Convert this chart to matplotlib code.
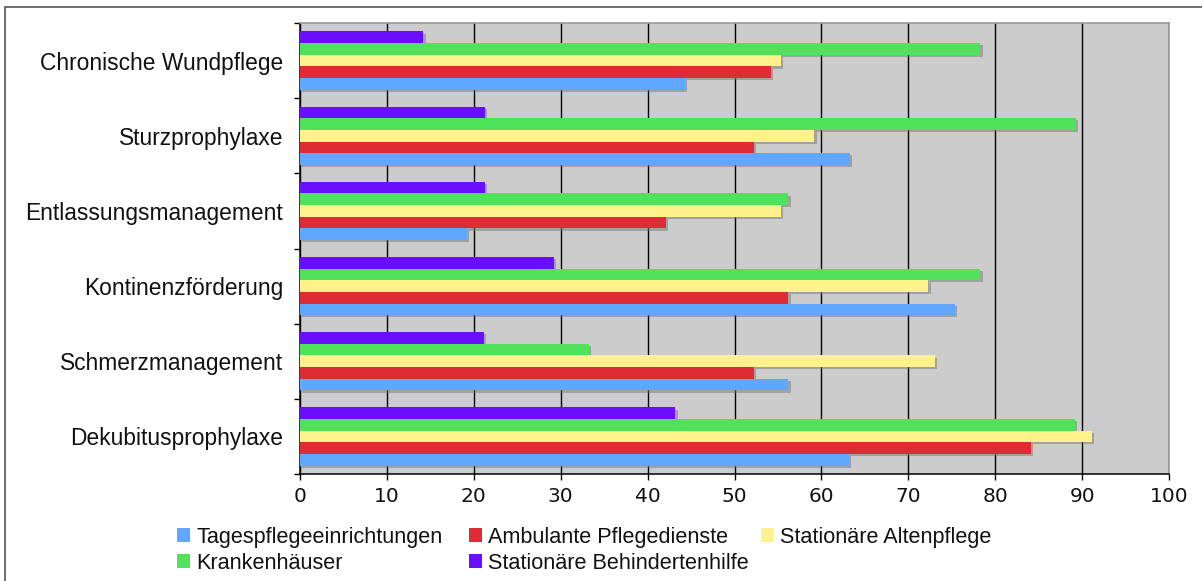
import matplotlib
matplotlib.use("Agg")
import matplotlib.pyplot as plt
import matplotlib.patheffects as pe
from matplotlib.patches import Rectangle
from matplotlib.ticker import FixedLocator
import numpy as np

#===[DATA]===#
categories = ["Chronische Wundpflege", "Sturzprophylaxe", "Entlassungsmanagement",
              "Kontinenzförderung", "Schmerzmanagement", "Dekubitusprophylaxe"]

tagespflege = [44.3, 63.3, 19.2, 75.4, 56.2, 63.2]
ambulante = [54.2, 52.2, 42.1, 56.2, 52.2, 84.1]
altenpflege = [55.3, 59.2, 55.3, 72.3, 73.1, 91.1]
krankenhaeuser = [78.3, 89.3, 56.2, 78.3, 33.2, 89.2]
behindertenhilfe = [14.2, 21.3, 21.3, 29.2, 21.2, 43.2]

x_ticks = [0, 10, 20, 30, 40, 50, 60, 70, 80, 90, 100]

# series from the top bar of a group down to the bottom bar
series = [
    ("Stationäre Behindertenhilfe", behindertenhilfe, "#6a0eff"),
    ("Krankenhäuser", krankenhaeuser, "#4fe25a"),
    ("Stationäre Altenpflege", altenpflege, "#fff28c"),
    ("Ambulante Pflegedienste", ambulante, "#dd2c33"),
    ("Tagespflegeeinrichtungen", tagespflege, "#60a8ff"),
]

#===[PLOT]===#
fig = plt.figure(figsize=(12.02, 5.81), dpi=100)
ax = fig.add_axes([300 / 1202, 1 - 474 / 581, 869 / 1202, 451 / 581])
ax.set_facecolor("#cccccc")

y = np.arange(len(categories))
h = 0.155
shadow = [pe.SimplePatchShadow(offset=(1.6, -1.6), shadow_rgbFace="#777777", alpha=0.5), pe.Normal()]

bars = {}
for i, (name, vals, col) in enumerate(series):
    b = ax.barh(y + (i - 2) * h, vals, height=h, color=col, zorder=3)
    for r in b:
        r.set_path_effects(shadow)
    bars[name] = b

ax.set_xlim(0, 100)
ax.set_ylim(len(categories) - 0.5, -0.5)  # top category first

# x axis
ax.set_xticks(x_ticks)
ax.set_xticklabels([str(t) for t in x_ticks], fontsize=14.5, family="DejaVu Sans", color="#111111")
ax.tick_params(axis="x", direction="out", length=4, width=1, color="black", pad=5)
ax.grid(axis="x", color="black", linewidth=1.0)
ax.set_axisbelow(True)

# y axis: ticks on group borders, labels in the middle
ax.yaxis.set_major_locator(FixedLocator(np.arange(-0.5, len(categories), 1.0)))
ax.yaxis.set_minor_locator(FixedLocator(y))
ax.set_yticklabels([], minor=False)
ax.set_yticklabels(categories, minor=True, fontsize=16.4, family="Liberation Sans", color="#111111")
ax.tick_params(axis="y", which="major", direction="out", length=4.5, width=1, color="black")
ax.tick_params(axis="y", which="minor", length=0, pad=12)

for s in ["left", "bottom"]:
    ax.spines[s].set_color("black")
    ax.spines[s].set_linewidth(1.1)
for s in ["top", "right"]:
    ax.spines[s].set_color("#999999")
    ax.spines[s].set_linewidth(1.2)

# legend: three columns placed by hand
cols = [
    ["Tagespflegeeinrichtungen", "Krankenhäuser"],
    ["Ambulante Pflegedienste", "Stationäre Behindertenhilfe"],
    ["Stationäre Altenpflege"],
]
col_x = [177, 469, 761]
for cx, names in zip(col_x, cols):
    leg = fig.legend([bars[n][0] for n in names], names, loc="upper left",
                     bbox_to_anchor=(cx / 1202, 1 - 527 / 581), frameon=False,
                     borderpad=0, borderaxespad=0, handlelength=0.62, handleheight=0.62,
                     handletextpad=0.28, labelspacing=0.22,
                     prop={"family": "Liberation Sans", "size": 15.6})
    for hnd in leg.legend_handles:
        hnd.set_path_effects([])
    for t in leg.get_texts():
        t.set_color("#111111")

# outer frame around the chart
fig.patches.append(Rectangle((5 / 1202, -0.05), 1.1, 1 - 7 / 581 + 0.05, transform=fig.transFigure,
                             fill=False, edgecolor="#555555", linewidth=1.2, clip_on=False))

fig.savefig("out.png", dpi=100)
